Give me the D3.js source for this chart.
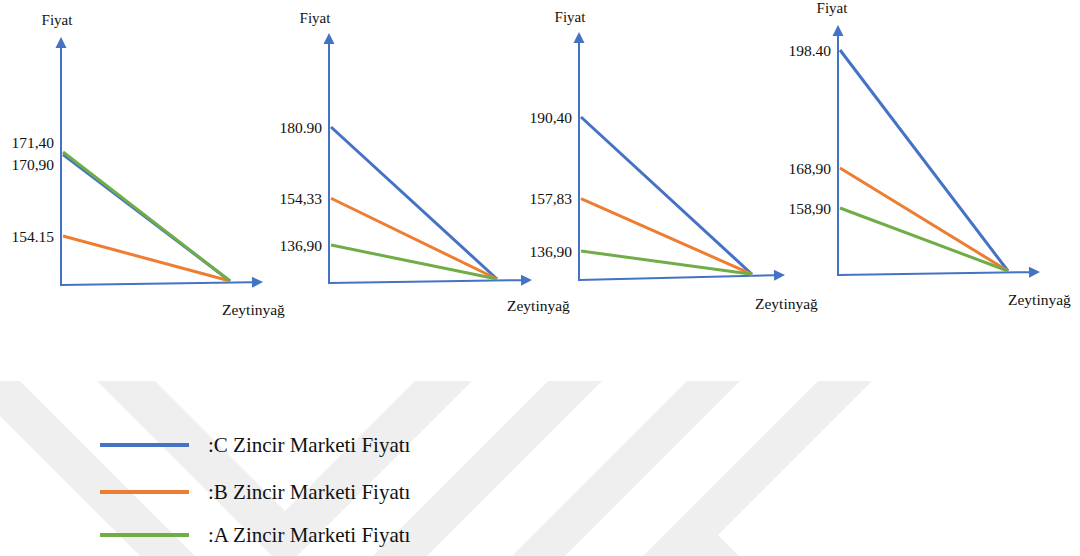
<!DOCTYPE html>
<html>
<head>
<meta charset="utf-8">
<script src="https://cdn.jsdelivr.net/npm/d3@7"></script>
<style>
  html, body { margin: 0; padding: 0; background: #ffffff; }
  svg { display: block; }
</style>
</head>
<body>
<svg id="chart" width="1080" height="556"></svg>
<script>
// ---------------- DATA ----------------
const panelIds   = ["P1", "P2", "P3", "P4"];
const seriesKeys = ["C", "B", "A"];
const seriesNames = [":C Zincir Marketi Fiyatı", ":B Zincir Marketi Fiyatı", ":A Zincir Marketi Fiyatı"];
const priceC = [170.90, 180.90, 190.40, 198.40];
const priceB = [154.15, 154.33, 157.83, 168.90];
const priceA = [171.40, 136.90, 136.90, 158.90];
const labelC = ["170,90", "180.90", "190,40", "198.40"];
const labelB = ["154.15", "154,33", "157,83", "168,90"];
const labelA = ["171,40", "136,90", "136,90", "158,90"];
const yTitle = "Fiyat";
const xTitle = "Zeytinyağ";

// ---------------- STYLE / LAYOUT ----------------
const FONT = "'Liberation Serif', 'Times New Roman', 'DejaVu Serif', serif";
const colors = { C: "#4472C4", B: "#ED7D31", A: "#70AD47" };
const axisColor = "#4472C4";
const layout = [
  { ax: 61,  yb: 285, yt: 37, xt: 263,  xty: 282, r0: 236, r1: 152, ex: 230,  fx: 57,  fy: 25, zx: 222,  zy: 315 },
  { ax: 329, yb: 283, yt: 33, xt: 532,  xty: 280, r0: 245, r1: 127, ex: 497,  fx: 315, fy: 23, zx: 507,  zy: 311 },
  { ax: 579, yb: 280, yt: 32, xt: 785,  xty: 275, r0: 251, r1: 117, ex: 752,  fx: 570, fy: 22, zx: 755,  zy: 309 },
  { ax: 838, yb: 275, yt: 25, xt: 1040, xty: 272, r0: 208, r1: 50,  ex: 1008, fx: 832, fy: 13, zx: 1008, zy: 305 }
];

const svg = d3.select("#chart")
  .style("font-family", FONT)
  .attr("font-family", FONT);

// ---------------- WATERMARK ----------------
const wm = svg.append("g").attr("fill", "#efefef");
const wmShapes = [
  [[-35,381],[20,381],[195,556],[140,556]],
  [[97,381],[155,381],[285,511],[415,381],[472,381],[297,556],[272,556]],
  [[548,381],[602,381],[427,556],[373,556]],
  [[687,381],[740,381],[565,556],[512,556]],
  [[818,381],[872,381],[718,535],[739,556],[643,556]]
];
wm.selectAll("path").data(wmShapes).join("path")
  .attr("d", d => d3.line()(d) + "Z");

// ---------------- PANELS ----------------
const priceBy = { C: priceC, B: priceB, A: priceA };
const labelBy = { C: labelC, B: labelB, A: labelA };

panelIds.forEach((pid, i) => {
  const L = layout[i];
  const g = svg.append("g").attr("class", "panel " + pid);
  const vals = seriesKeys.map(k => priceBy[k][i]);
  const y = d3.scaleLinear().domain(d3.extent(vals)).range([L.r0, L.r1]);
  const x = d3.scaleLinear().domain([0, 1]).range([L.ax + 2, L.ex]);
  const head = 11;
  const ang = Math.atan2(L.xty - L.yb, L.xt - L.ax);
  const bx = L.xt - head * Math.cos(ang), by = L.xty - head * Math.sin(ang);
  const axisYAt = px => L.yb + (L.xty - L.yb) * (px - L.ax) / (L.xt - L.ax);

  g.append("line").attr("x1", L.ax).attr("y1", L.yb).attr("x2", bx).attr("y2", by)
    .attr("stroke", axisColor).attr("stroke-width", 2);
  const nx = -Math.sin(ang), ny = Math.cos(ang);
  g.append("path")
    .attr("d", d3.line()([[L.xt, L.xty], [bx + nx * 5.5, by + ny * 5.5], [bx - nx * 5.5, by - ny * 5.5]]) + "Z")
    .attr("fill", axisColor);
  g.append("line").attr("x1", L.ax).attr("y1", L.yb + 1).attr("x2", L.ax).attr("y2", L.yt + head)
    .attr("stroke", axisColor).attr("stroke-width", 2);
  g.append("path")
    .attr("d", d3.line()([[L.ax, L.yt], [L.ax - 5.5, L.yt + head], [L.ax + 5.5, L.yt + head]]) + "Z")
    .attr("fill", axisColor);

  seriesKeys.forEach(k => {
    const v = priceBy[k][i];
    g.append("line")
      .attr("x1", x(0)).attr("y1", y(v))
      .attr("x2", x(1)).attr("y2", axisYAt(x(1)) - 1.5)
      .attr("stroke", colors[k]).attr("stroke-width", 3);
  });

  const labs = seriesKeys.map(k => ({ t: labelBy[k][i], y: y(priceBy[k][i]) }))
    .sort((a, b) => a.y - b.y);
  const gap = 22;
  for (let iter = 0; iter < 10; iter++) {
    for (let j = 1; j < labs.length; j++) {
      const d = labs[j].y - labs[j - 1].y;
      if (d < gap) {
        const s = (gap - d) / 2;
        labs[j - 1].y -= s; labs[j].y += s;
      }
    }
  }
  g.selectAll("text.val").data(labs).join("text")
    .attr("class", "val")
    .attr("x", L.ax - 7).attr("y", d => d.y + 5.5)
    .attr("text-anchor", "end")
    .attr("font-family", FONT).attr("fill", "#111")
    .attr("font-size", 15.5)
    .text(d => d.t);

  g.append("text").attr("x", L.fx).attr("y", L.fy).attr("text-anchor", "middle")
    .attr("font-family", FONT).attr("fill", "#111")
    .attr("font-size", 15).text(yTitle);
  g.append("text").attr("x", L.zx).attr("y", L.zy).attr("text-anchor", "start")
    .attr("font-family", FONT).attr("fill", "#111")
    .attr("font-size", 15.5).text(xTitle);
});

// ---------------- LEGEND ----------------
const legY = [445, 492, 535];
const lg = svg.append("g").attr("class", "legend");
seriesKeys.forEach((k, j) => {
  lg.append("line").attr("x1", 100).attr("x2", 189).attr("y1", legY[j]).attr("y2", legY[j])
    .attr("stroke", colors[k]).attr("stroke-width", 4);
  lg.append("text").attr("x", 208).attr("y", legY[j] + 7)
    .attr("font-family", FONT).attr("fill", "#111")
    .attr("font-size", 21).text(seriesNames[j]);
});
</script>
</body>
</html>
